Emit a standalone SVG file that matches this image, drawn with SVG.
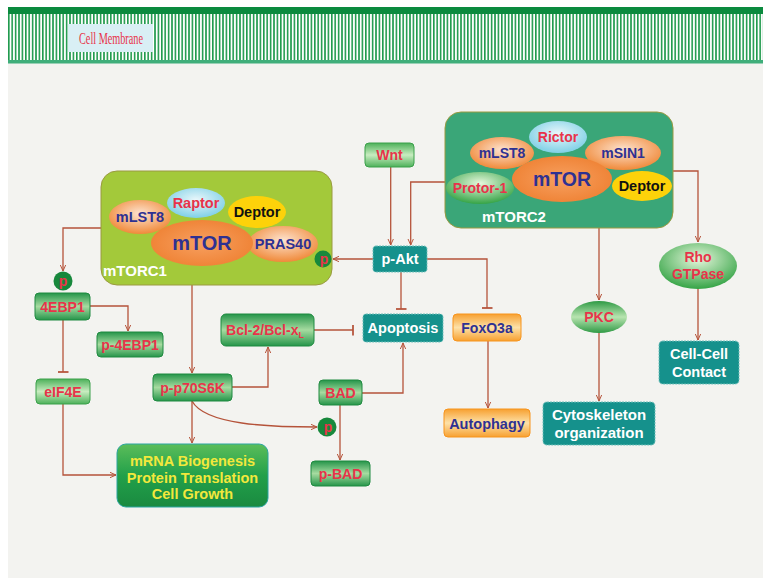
<svg xmlns="http://www.w3.org/2000/svg" width="763" height="578" viewBox="0 0 763 578">
<defs>
<pattern id="stripes" x="8" y="0" width="3.4" height="10" patternUnits="userSpaceOnUse">
<rect x="0" y="0" width="1.6" height="10" fill="#1f9a4c"/>
</pattern>
<linearGradient id="gBox" x1="0" y1="0" x2="0" y2="1">
<stop offset="0" stop-color="#25954a"/>
<stop offset="0.5" stop-color="#a6dba0"/>
<stop offset="1" stop-color="#25954a"/>
</linearGradient>
<linearGradient id="gBoxL" x1="0" y1="0" x2="0" y2="1">
<stop offset="0" stop-color="#4db15a"/>
<stop offset="0.5" stop-color="#c8ecc0"/>
<stop offset="1" stop-color="#4db15a"/>
</linearGradient>
<linearGradient id="gOrange" x1="0" y1="0" x2="0" y2="1">
<stop offset="0" stop-color="#f7a030"/>
<stop offset="0.5" stop-color="#fde1a8"/>
<stop offset="1" stop-color="#f7a030"/>
</linearGradient>
<linearGradient id="gBig" x1="0" y1="0" x2="0" y2="1">
<stop offset="0" stop-color="#5bbd5a"/>
<stop offset="0.5" stop-color="#22a04a"/>
<stop offset="1" stop-color="#1a8a40"/>
</linearGradient>
<radialGradient id="gOr" cx="0.5" cy="0.4" r="0.6">
<stop offset="0" stop-color="#fde3cf"/>
<stop offset="1" stop-color="#f08a3a"/>
</radialGradient>
<radialGradient id="gOr2" cx="0.5" cy="0.5" r="0.6">
<stop offset="0" stop-color="#f7a060"/>
<stop offset="1" stop-color="#ee7f30"/>
</radialGradient>
<radialGradient id="gBlue" cx="0.5" cy="0.4" r="0.6">
<stop offset="0" stop-color="#eaf7fb"/>
<stop offset="1" stop-color="#7fd0e6"/>
</radialGradient>
<radialGradient id="gGreenE" cx="0.5" cy="0.35" r="0.65">
<stop offset="0" stop-color="#e6f7dc"/>
<stop offset="1" stop-color="#35a446"/>
</radialGradient>
<linearGradient id="gPKC" x1="0" y1="0" x2="0" y2="1">
<stop offset="0" stop-color="#2f9a45"/>
<stop offset="0.5" stop-color="#b8e4b0"/>
<stop offset="1" stop-color="#2f9a45"/>
</linearGradient>
<marker id="arr" viewBox="0 0 10 10" refX="9" refY="5" markerWidth="7" markerHeight="7" orient="auto" markerUnits="userSpaceOnUse">
<path d="M0,1 L9,5 L0,9" fill="none" stroke="#b5533a" stroke-width="1.4"/>
</marker>
<marker id="tee" viewBox="0 0 10 10" refX="5" refY="5" markerWidth="11" markerHeight="11" orient="auto" markerUnits="userSpaceOnUse">
<path d="M5,0 L5,10" stroke="#b5533a" stroke-width="1.6"/>
</marker>
</defs>
<style>
.lbl{font-family:"Liberation Sans",Arial,sans-serif;font-weight:bold;text-anchor:middle}
.st{text-anchor:start}
.red{fill:#e8334a}
.navy{fill:#2e3192}
.wht{fill:#ffffff}
.blk{fill:#111111}
.yel{fill:#f2e83c}
.gbox{fill:url(#gBox);stroke:#1f8a40;stroke-width:1}
.gboxl{fill:url(#gBoxL);stroke:#3aa04a;stroke-width:1}
.obox{fill:url(#gOrange);stroke:#f7941d;stroke-width:1}
.tbox{fill:#15918c;stroke:#6fc0bb;stroke-width:1;stroke-dasharray:2 1}
.pc{fill:#17883c}
.ln{fill:none;stroke:#b5533a;stroke-width:1.3}
</style>
<rect x="0" y="0" width="763" height="578" fill="#ffffff"/>
<rect x="8" y="63" width="755" height="515" fill="#f3f3f0"/>
<g id="membrane">
<rect x="8" y="14" width="755" height="46" fill="#ffffff"/>
<rect x="8" y="14" width="755" height="46" fill="url(#stripes)"/>
<rect x="8" y="7" width="755" height="7" fill="#0b8a3e"/>
<rect x="8" y="60" width="755" height="3.5" fill="#3fae7a"/>
<rect x="68" y="24" width="85" height="28" fill="#d9eff5"/>
<text x="111" y="44" font-family="Liberation Serif,serif" font-size="16" fill="#e8334a" text-anchor="middle" textLength="64" lengthAdjust="spacingAndGlyphs">Cell Membrane</text>
</g>
<g id="connectors">
<path class="ln" d="M390.7,167 V245" marker-end="url(#arr)"/>
<path class="ln" d="M445,182 H410.7 V245" marker-end="url(#arr)"/>
<path class="ln" d="M373,259 H333" marker-end="url(#arr)"/>
<path class="ln" d="M427,259 H487 V308" marker-end="url(#tee)"/>
<path class="ln" d="M401,272 V309" marker-end="url(#tee)"/>
<path class="ln" d="M314,330 H353" marker-end="url(#tee)"/>
<path class="ln" d="M362,393 H403 V343" marker-end="url(#arr)"/>
<path class="ln" d="M340,405 V460" marker-end="url(#arr)"/>
<path class="ln" d="M192,401 C205,425 270,427 317,427" marker-end="url(#arr)"/>
<path class="ln" d="M232,387 H268 V347" marker-end="url(#arr)"/>
<path class="ln" d="M192,285 V373" marker-end="url(#arr)"/>
<path class="ln" d="M192,401 V443" marker-end="url(#arr)"/>
<path class="ln" d="M101,228 H63 V271" marker-end="url(#arr)"/>
<path class="ln" d="M90,306 H128 V331" marker-end="url(#arr)"/>
<path class="ln" d="M63,320 V372" marker-end="url(#tee)"/>
<path class="ln" d="M63,404 V475 H116" marker-end="url(#arr)"/>
<path class="ln" d="M488,341 V408" marker-end="url(#arr)"/>
<path class="ln" d="M599,228 V300" marker-end="url(#arr)"/>
<path class="ln" d="M599,333 V401" marker-end="url(#arr)"/>
<path class="ln" d="M673,171 H698 V242" marker-end="url(#arr)"/>
<path class="ln" d="M698,289 V340" marker-end="url(#arr)"/>
</g>
<g id="mTORC1">
<rect x="101" y="171" width="231" height="114" rx="16" fill="#a3c93a" stroke="#9a9a40" stroke-width="1"/>
<ellipse cx="140" cy="217" rx="31" ry="17" fill="url(#gOr)"/>
<ellipse cx="196" cy="203" rx="29" ry="15" fill="url(#gBlue)"/>
<ellipse cx="257" cy="212" rx="29" ry="16" fill="#fdd20a"/>
<ellipse cx="283" cy="244" rx="35" ry="18" fill="url(#gOr)"/>
<ellipse cx="202" cy="243" rx="51" ry="23" fill="url(#gOr2)"/>
<text class="lbl navy" x="140" y="222" font-size="14.5">mLST8</text>
<text class="lbl red" x="196" y="208" font-size="14.5">Raptor</text>
<text class="lbl blk" x="257" y="217" font-size="14.5">Deptor</text>
<text class="lbl navy" x="202" y="250" font-size="20">mTOR</text>
<text class="lbl navy" x="283" y="249" font-size="14.5">PRAS40</text>
<circle class="pc" cx="323" cy="259" r="8.5"/>
<text class="lbl red" x="324" y="264" font-size="14">p</text>
<text class="lbl wht st" x="103" y="276" font-size="15">mTORC1</text>
</g>
<g id="mTORC2">
<rect x="445" y="112" width="228" height="116" rx="16" fill="#3aa678" stroke="#9a9a40" stroke-width="1"/>
<ellipse cx="558" cy="137" rx="29" ry="16" fill="url(#gBlue)"/>
<ellipse cx="502" cy="153" rx="32" ry="16" fill="url(#gOr)"/>
<ellipse cx="623" cy="153" rx="38" ry="17" fill="url(#gOr)"/>
<ellipse cx="642" cy="186" rx="30" ry="15" fill="#fdd20a"/>
<ellipse cx="480" cy="188" rx="34" ry="16" fill="url(#gGreenE)"/>
<ellipse cx="562" cy="179" rx="50" ry="23" fill="url(#gOr2)"/>
<text class="lbl red" x="558" y="142" font-size="14">Rictor</text>
<text class="lbl navy" x="502" y="158" font-size="14">mLST8</text>
<text class="lbl navy" x="623" y="158" font-size="14">mSIN1</text>
<text class="lbl blk" x="642" y="191" font-size="14.5">Deptor</text>
<text class="lbl red" x="480" y="193" font-size="14">Protor-1</text>
<text class="lbl navy" x="562" y="186" font-size="19.5">mTOR</text>
<text class="lbl wht st" x="482" y="222" font-size="15">mTORC2</text>
</g>
<g id="Wnt">
<rect class="gboxl" x="365" y="143" width="49" height="24" rx="4"/>
<text class="lbl red" x="389.5" y="160" font-size="14">Wnt</text>
</g>
<g id="pAkt">
<rect class="tbox" x="373" y="246" width="54" height="26" rx="3"/>
<text class="lbl wht" x="400" y="264" font-size="14.5">p-Akt</text>
</g>
<g id="p4EBP">
<circle class="pc" cx="63" cy="281" r="9.5"/>
<text class="lbl red" x="63" y="286" font-size="14">p</text>
</g>
<g id="n4EBP1">
<rect class="gbox" x="35" y="293" width="55" height="27" rx="4"/>
<text class="lbl red" x="62.5" y="311.5" font-size="14">4EBP1</text>
</g>
<g id="p-4EBP1">
<rect class="gbox" x="97" y="332" width="66" height="25" rx="4"/>
<text class="lbl red" x="130" y="349.5" font-size="14">p-4EBP1</text>
</g>
<g id="eIF4E">
<rect class="gboxl" x="36" y="379" width="54" height="25" rx="4"/>
<text class="lbl red" x="63" y="396.5" font-size="14">eIF4E</text>
</g>
<g id="p70S6K">
<rect class="gbox" x="153" y="374" width="79" height="27" rx="4"/>
<text class="lbl red" x="192.5" y="392.5" font-size="14">p-p70S6K</text>
</g>
<g id="Bcl2">
<rect class="gbox" x="221" y="314" width="93" height="32" rx="5"/>
<text class="lbl red" x="265" y="334.5" font-size="14">Bcl-2/Bcl-x<tspan font-size="9" dy="3">L</tspan></text>
</g>
<g id="Apoptosis">
<rect class="tbox" x="363" y="314" width="80" height="28" rx="3"/>
<text class="lbl wht" x="403" y="333" font-size="14.5">Apoptosis</text>
</g>
<g id="FoxO3a">
<rect class="obox" x="453" y="314" width="68" height="27" rx="4"/>
<text class="lbl navy" x="487" y="332.5" font-size="14">FoxO3a</text>
</g>
<g id="BAD">
<rect class="gbox" x="319" y="380" width="43" height="25" rx="4"/>
<text class="lbl red" x="340.5" y="397.5" font-size="14">BAD</text>
</g>
<g id="pBADcircle">
<circle class="pc" cx="327" cy="427" r="9.5"/>
<text class="lbl red" x="328" y="432" font-size="14">p</text>
</g>
<g id="pBAD">
<rect class="gbox" x="311" y="461" width="59" height="25" rx="4"/>
<text class="lbl red" x="340.5" y="478.5" font-size="14">p-BAD</text>
</g>
<g id="mRNA">
<rect x="117" y="444" width="151" height="63" rx="9" fill="url(#gBig)" stroke="#2aa5a0" stroke-width="1"/>
<text class="lbl yel" x="192.5" y="466" font-size="14.5">mRNA Biogenesis</text>
<text class="lbl yel" x="192.5" y="482.5" font-size="14.5">Protein Translation</text>
<text class="lbl yel" x="192.5" y="499" font-size="14.5">Cell  Growth</text>
</g>
<g id="Autophagy">
<rect class="obox" x="444" y="409" width="86" height="28" rx="4"/>
<text class="lbl navy" x="487" y="428.5" font-size="14.5">Autophagy</text>
</g>
<g id="PKC">
<ellipse cx="599" cy="317" rx="28" ry="16" fill="url(#gPKC)"/>
<text class="lbl red" x="599" y="322" font-size="14">PKC</text>
</g>
<g id="Cytoskeleton">
<rect class="tbox" x="543" y="402" width="112" height="43" rx="4"/>
<text class="lbl wht" x="599" y="420" font-size="15">Cytoskeleton</text>
<text class="lbl wht" x="599" y="438" font-size="15">organization</text>
</g>
<g id="Rho">
<ellipse cx="698" cy="266" rx="39" ry="23" fill="url(#gGreenE)"/>
<text class="lbl red" x="698" y="262" font-size="14">Rho</text>
<text class="lbl red" x="698" y="279" font-size="14">GTPase</text>
</g>
<g id="CellCell">
<rect class="tbox" x="659" y="341" width="80" height="43" rx="4"/>
<text class="lbl wht" x="699" y="359" font-size="14.5">Cell-Cell</text>
<text class="lbl wht" x="699" y="377" font-size="14.5">Contact</text>
</g>
</svg>
